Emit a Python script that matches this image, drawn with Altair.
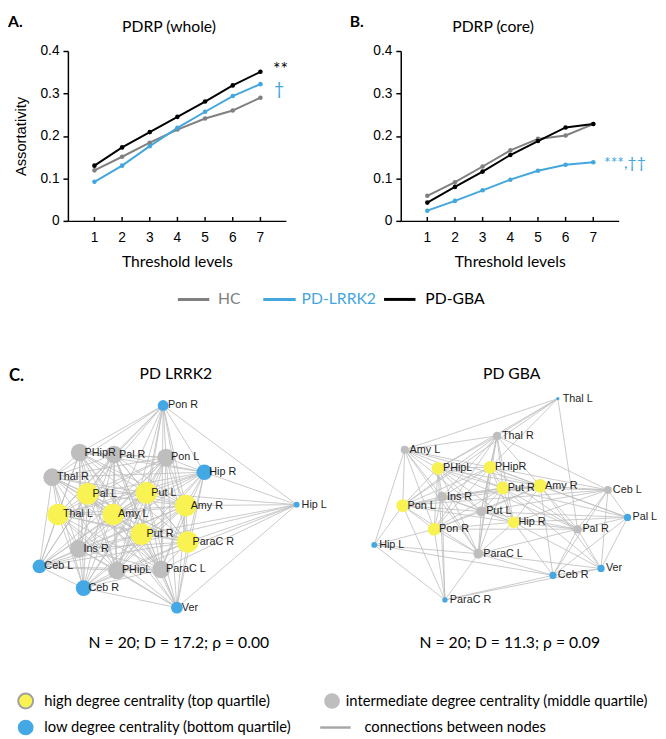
import altair as alt
import pandas as pd
from itertools import combinations

# ---------------- Panel A / B data ----------------
thresholds = [1, 2, 3, 4, 5, 6, 7]
groups = ["HC", "PD-LRRK2", "PD-GBA"]
group_colors = ["#808080", "#43A6DD", "#000000"]

whole_hc = [0.119, 0.151, 0.184, 0.215, 0.241, 0.260, 0.290]
whole_lrrk2 = [0.092, 0.130, 0.176, 0.219, 0.257, 0.294, 0.322]
whole_gba = [0.130, 0.173, 0.209, 0.245, 0.281, 0.319, 0.351]

core_hc = [0.059, 0.091, 0.128, 0.166, 0.193, 0.201, 0.228]
core_lrrk2 = [0.024, 0.047, 0.072, 0.097, 0.118, 0.132, 0.138]
core_gba = [0.043, 0.080, 0.116, 0.155, 0.188, 0.220, 0.228]

y_ticks = [0, 0.1, 0.2, 0.3, 0.4]
panel_ab_titles = ["PDRP (whole)", "PDRP (core)"]
sig_whole = ["**", "†"]
sig_core = "***,††"

# ---------------- Panel C data (network layouts) ----------------
classes = ["high", "intermediate", "low"]
class_colors = ["#F8F352", "#BEBEBE", "#44A8E4"]

lrrk2_names = ["Pon R", "PHipR", "Pal R", "Pon L", "Hip R", "Thal R", "Pal L", "Put L", "Amy R", "Thal L",
               "Amy L", "Hip L", "Put R", "ParaC R", "Ins R", "Ceb L", "PHipL", "ParaC L", "Ceb R", "Ver"]
lrrk2_x = [160, 75, 110, 163, 202, 47, 83, 143, 183, 53, 109, 296, 138, 185, 74, 34, 113, 158, 79, 174]
lrrk2_y = [400, 448, 450, 453, 468, 473, 490, 489, 502, 511, 511, 501, 531, 539, 546, 564, 568, 567, 586, 606]
lrrk2_r = [5.5, 9, 9, 9, 8, 9, 11, 11, 11, 11, 11, 3, 11, 11, 9, 7, 9, 9, 8, 6]
lrrk2_cls = ["low", "intermediate", "intermediate", "intermediate", "low", "intermediate", "high", "high",
             "high", "high", "high", "low", "high", "high", "intermediate", "low", "intermediate",
             "intermediate", "low", "low"]
lrrk2_missing_links = [
    ("Hip L", "Thal R"), ("Hip L", "Thal L"), ("Hip L", "PHipR"), ("Hip L", "Pal R"), ("Hip L", "Pal L"),
    ("Hip L", "Amy L"), ("Hip L", "Ins R"), ("Hip L", "PHipL"), ("Hip L", "Pon L"), ("Pon R", "Ver"),
    ("Pon R", "Ceb R"), ("Pon R", "Ceb L"), ("Hip R", "Ceb L"), ("Ver", "Thal R"), ("Ver", "PHipR"),
    ("Ceb R", "Hip R"), ("Ver", "Ceb L"), ("Pon R", "Ins R"),
]

gba_names = ["Thal L", "Thal R", "Amy L", "PHipL", "PHipR", "Put R", "Amy R", "Ceb L", "Ins R", "Pon L",
             "Put L", "Pal L", "Hip R", "Pon R", "Pal R", "Hip L", "ParaC L", "Ver", "Ceb R", "ParaC R"]
gba_x = [562, 500, 406, 440, 493, 506, 544, 613, 444, 404, 484, 633, 517, 436, 582, 375, 481, 606, 557, 447]
gba_y = [393, 431, 445, 464, 463, 484, 482, 486, 493, 502, 508, 514, 519, 526, 526, 542, 551, 566, 573, 598]
gba_r = [1.7, 4.3, 4, 6.5, 6.5, 6.5, 7, 4, 5, 6.5, 5, 3.7, 6, 6.5, 4.3, 3, 5, 3.7, 3.7, 2.7]
gba_cls = ["low", "intermediate", "intermediate", "high", "high", "high", "high", "intermediate",
           "intermediate", "high", "intermediate", "low", "high", "high", "intermediate", "low",
           "intermediate", "low", "low", "low"]
gba_links = {
    "Thal L": ["Thal R", "Amy L", "PHipL", "PHipR", "Pon L", "Pal R"],
    "Thal R": ["Amy L", "PHipL", "PHipR", "Put R", "Amy R", "Ins R", "Pon L", "Pon R", "Put L", "Ceb L",
               "ParaC L", "Hip R"],
    "Amy L": ["PHipL", "PHipR", "Pon L", "Ins R", "Pon R", "Put L", "Hip L", "ParaC L", "Put R", "Amy R"],
    "PHipL": ["PHipR", "Put R", "Amy R", "Ins R", "Pon L", "Put L", "Hip R", "Pon R", "ParaC L", "ParaC R",
              "Pal R"],
    "PHipR": ["Put R", "Amy R", "Ins R", "Pon L", "Put L", "Hip R", "Pon R", "ParaC L", "Ceb L", "Pal R",
              "Pal L"],
    "Put R": ["Amy R", "Ins R", "Pon L", "Put L", "Hip R", "Pon R", "Ceb L", "Pal R", "Pal L", "Ver",
              "ParaC L"],
    "Amy R": ["Ceb L", "Ins R", "Pon L", "Put L", "Hip R", "Pon R", "Pal R", "Pal L", "Ver", "Ceb R"],
    "Ceb L": ["Pal L", "Pal R", "Ver", "Ceb R", "Hip R", "Put L", "Pon L"],
    "Ins R": ["Pon L", "Put L", "Hip R", "Pon R", "ParaC L", "ParaC R"],
    "Pon L": ["Put L", "Hip R", "Pon R", "Hip L", "ParaC L", "ParaC R"],
    "Put L": ["Hip R", "Pon R", "ParaC L", "Pal L", "Pal R"],
    "Pal L": ["Pal R", "Ver", "Ceb R", "Hip R"],
    "Hip R": ["Pon R", "Pal R", "Ver", "Ceb R", "ParaC L"],
    "Pon R": ["Hip L", "ParaC L", "ParaC R", "Pal R"],
    "Pal R": ["Ver", "Ceb R", "ParaC L"],
    "Hip L": ["ParaC L", "ParaC R", "Ceb R"],
    "ParaC L": ["Ceb R", "Ver", "ParaC R"],
    "Ver": ["ParaC R", "Ceb R"],
    "Ceb R": ["ParaC R"],
}

panel_titles = ["PD LRRK2", "PD GBA"]
panel_stats = ["N = 20; D = 17.2; ρ = 0.00", "N = 20; D = 11.3; ρ = 0.09"]
class_labels = ["high degree centrality (top quartile)",
                "intermediate degree centrality (middle quartile)",
                "low degree centrality (bottom quartile)"]
edge_label = "connections between nodes"

AX_FONT = "Liberation Sans"
TXT_FONT = "Lato"


# ---------------- build tables ----------------
def long_df(hc, lr, gba):
    rows = []
    for g, vals in zip(groups, [hc, lr, gba]):
        for t, v in zip(thresholds, vals):
            rows.append({"threshold": t, "value": v, "group": g})
    return pd.DataFrame(rows)


def node_df(names, xs, ys, rs, cls):
    return pd.DataFrame({"name": names, "x": xs, "y": ys, "r": rs, "cls": cls})


def edge_df(nodes, pairs):
    pos = {n: (x, y) for n, x, y in zip(nodes["name"], nodes["x"], nodes["y"])}
    rows = []
    for a, b in pairs:
        rows.append({"x": pos[a][0], "y": pos[a][1], "x2": pos[b][0], "y2": pos[b][1]})
    return pd.DataFrame(rows)


nodes_l = node_df(lrrk2_names, lrrk2_x, lrrk2_y, lrrk2_r, lrrk2_cls)
missing = {frozenset(p) for p in lrrk2_missing_links}
pairs_l = [p for p in combinations(lrrk2_names, 2) if frozenset(p) not in missing]

nodes_g = node_df(gba_names, gba_x, gba_y, gba_r, gba_cls)
seen = set()
pairs_g = []
for a, nbrs in gba_links.items():
    for b in nbrs:
        k = frozenset((a, b))
        if k not in seen:
            seen.add(k)
            pairs_g.append((a, b))

nodes_all = pd.concat([nodes_l, nodes_g], ignore_index=True)
edges_all = pd.concat([edge_df(nodes_l, pairs_l), edge_df(nodes_g, pairs_g)], ignore_index=True)

color_scale = alt.Scale(domain=groups, range=group_colors)
tick_df = pd.DataFrame({"threshold": thresholds})


# ---------------- line panels ----------------
def line_panel(df, ytitle):
    xscale = alt.Scale(domain=[0.04, 7.92], nice=False, zero=False)
    xenc = alt.X("threshold:Q", scale=xscale,
                 axis=alt.Axis(values=thresholds, title="Threshold levels", ticks=False, labels=False,
                               titleFont=TXT_FONT, titleFontSize=16, titleFontWeight="normal",
                               titleColor="black", titlePadding=33,
                               domainColor="black", domainWidth=1.5, grid=False))
    yaxis = dict(values=y_ticks, format=".1~f", tickSize=5, tickColor="black", tickWidth=1.5,
                 labelPadding=4, labelFontSize=14, labelFont=AX_FONT, labelColor="black",
                 labelOverlap=False, domainColor="black", domainWidth=1.5, grid=False)
    if ytitle:
        yaxis.update(title=ytitle, titleFont=AX_FONT, titleFontSize=15, titleFontWeight="normal",
                     titleColor="black", titlePadding=12)
    else:
        yaxis.update(title=None)
    yenc = alt.Y("value:Q", scale=alt.Scale(domain=[0, 0.4], nice=False), axis=alt.Axis(**yaxis))
    col = alt.Color("group:N", scale=color_scale, legend=None)

    lines = alt.Chart(df).mark_line(strokeWidth=2, point=alt.OverlayMarkDef(filled=True, size=22)).encode(
        x=xenc, y=yenc, color=col, order=alt.Order("threshold:Q"), detail="group:N")

    # inward x ticks and x tick labels
    ticks = alt.Chart(tick_df).mark_rule(color="black", strokeWidth=1.5).encode(
        x=alt.X("threshold:Q", scale=xscale), y=alt.value(173), y2=alt.value(169))
    tlabels = alt.Chart(tick_df).mark_text(
        font=AX_FONT, fontSize=14, color="black", baseline="middle", align="center").encode(
        x=alt.X("threshold:Q", scale=xscale), y=alt.value(191), text=alt.Text("threshold:Q", format="d"))

    return alt.layer(lines, ticks, tlabels).properties(width=222, height=173)


panel_a = line_panel(long_df(whole_hc, whole_lrrk2, whole_gba), "Assortativity")
panel_b = line_panel(long_df(core_hc, core_lrrk2, core_gba), None)

top_row = alt.hconcat(panel_a, panel_b, spacing=117, bounds="flush")

# ---------------- network canvas ----------------
cx = alt.Scale(domain=[63, 650], nice=False, zero=False)
cy = alt.Scale(domain=[300, 739], nice=False, zero=False, reverse=True)
cls_scale = alt.Scale(domain=classes, range=class_colors)

edges = alt.Chart(edges_all).mark_rule(color="#BDBDBD", strokeWidth=0.8).encode(
    x=alt.X("x:Q", scale=cx, axis=None), y=alt.Y("y:Q", scale=cy, axis=None), x2="x2:Q", y2="y2:Q")

nodes = alt.Chart(nodes_all).mark_circle(opacity=1).encode(
    x=alt.X("x:Q", scale=cx, axis=None), y=alt.Y("y:Q", scale=cy, axis=None),
    size=alt.Size("r:Q", scale=alt.Scale(type="pow", exponent=2, domain=[0, 11], range=[0, 484]), legend=None),
    color=alt.Color("cls:N", scale=cls_scale, legend=None))

labels = alt.Chart(nodes_all).mark_text(
    align="left", baseline="middle", dx=5, font=AX_FONT, fontSize=11, color="#1E1E1E").encode(
    x=alt.X("x:Q", scale=cx, axis=None), y=alt.Y("y:Q", scale=cy, axis=None), text="name:N")


def txt(s, x, y, size=16, align="center", color="black", weight="normal", baseline="middle"):
    return alt.Chart(pd.DataFrame({"t": [s]})).mark_text(
        align=align, baseline=baseline, font=TXT_FONT, fontSize=size, color=color, fontWeight=weight).encode(
        x=alt.value(x), y=alt.value(y), text="t:N")


def rule(x0, x1, y, color, width):
    return alt.Chart(pd.DataFrame({"k": [0]})).mark_rule(color=color, strokeWidth=width).encode(
        x=alt.value(x0), x2=alt.value(x1), y=alt.value(y))


def dot(x, y, color, size, stroke=None):
    kw = dict(fill=color, size=size, opacity=1, shape="circle", filled=True)
    if stroke:
        kw.update(stroke=stroke, strokeWidth=2, strokeOpacity=1)
    else:
        kw.update(strokeWidth=0)
    return alt.Chart(pd.DataFrame({"k": [0]})).mark_point(**kw).encode(
        x=alt.value(x), y=alt.value(y))


extras = []
# panel letters, titles and significance marks of A / B (offsets relative to the network canvas origin)
extras.append(txt("A.", -61, -290, size=16, align="left", weight="bold"))
extras.append(txt("B.", 287, -290, size=16, align="left", weight="bold"))
extras.append(txt(panel_ab_titles[0], 103, -285))
extras.append(txt(panel_ab_titles[1], 433, -285))
extras.append(txt(sig_whole[0], 209, -237, size=18, align="left", color=group_colors[2], baseline="alphabetic"))
extras.append(txt(sig_whole[1], 210, -216, size=18, align="left", color=group_colors[1], baseline="alphabetic"))
extras.append(txt(sig_core, 546, -142, size=16, align="left", color=group_colors[1], baseline="alphabetic"))

# series legend (between A/B and C)
leg_y = -8
for (x0, x1, tx), g, c in zip([(112, 144, 153), (199, 232, 238), (322, 354, 364)], groups, group_colors):
    extras.append(rule(x0, x1, leg_y, c, 3))
    extras.append(txt(g, tx, leg_y, size=16, align="left", color=c))

extras.append(txt("C.", -60, 70, size=17, align="left", weight="bold"))
extras.append(txt(panel_titles[0], 110, 68))
extras.append(txt(panel_titles[1], 452, 68))
extras.append(txt(panel_stats[0], 113, 342, size=16))
extras.append(txt(panel_stats[1], 450, 342, size=16))

# degree legend
extras.append(dot(-43, 401, class_colors[0], 230, stroke="#A0A0A0"))
extras.append(txt(class_labels[0], -24, 401, size=15, align="left"))
extras.append(dot(269, 401, class_colors[1], 256))
extras.append(txt(class_labels[1], 283, 401, size=15, align="left"))
extras.append(dot(-43, 428, class_colors[2], 256))
extras.append(txt(class_labels[2], -24, 428, size=15, align="left"))
extras.append(rule(257, 288, 428, "#A6A6A6", 2.5))
extras.append(txt(edge_label, 302, 428, size=15, align="left"))

canvas = alt.layer(edges, nodes, labels, *extras).properties(width=587, height=439)

# the nested top row has no size of its own under flush bounds, so the spacing spans its plot height
chart = alt.vconcat(top_row, canvas, spacing=261, bounds="flush").resolve_scale(
    color="independent"
).properties(padding=0).configure_view(stroke=None)

chart.save("out.html", embed_options={"renderer": "svg", "actions": False})
